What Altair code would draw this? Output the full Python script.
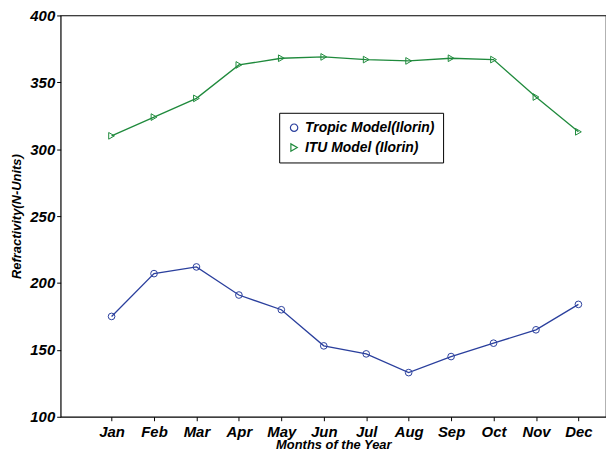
import pandas as pd
import altair as alt

months = ["Jan", "Feb", "Mar", "Apr", "May", "Jun", "Jul", "Aug", "Sep", "Oct", "Nov", "Dec"]
tropic = [175, 207, 212, 191, 180, 153, 147, 133, 145, 155, 165, 184]
itu = [310, 324, 338, 363, 368, 369, 367, 366, 368, 367, 339, 313]
series = ["Tropic Model(Ilorin)", "ITU Model (Ilorin)"]

rows = []
for i, m in enumerate(months):
    rows.append({"idx": i + 1, "month": m, "val": tropic[i], "model": series[0]})
    rows.append({"idx": i + 1, "month": m, "val": itu[i], "model": series[1]})
df = pd.DataFrame(rows)

font = "Liberation Sans"
label_expr = "[''," + ",".join("'%s'" % m for m in months) + "][datum.value]"

leg = alt.Legend(title=None, orient="none", legendX=220, legendY=98,
                 strokeColor="black", fillColor="white", padding=8, rowPadding=6,
                 labelFont=font, labelFontSize=14, labelFontWeight="bold",
                 labelFontStyle="italic", labelColor="black",
                 symbolSize=55, symbolStrokeWidth=1.2, symbolFillColor="transparent")

chart = alt.Chart(df).mark_line(
    point=alt.OverlayMarkDef(filled=False, size=45, strokeWidth=1), strokeWidth=1.3
).encode(
    x=alt.X("idx:Q", scale=alt.Scale(domain=[-0.2, 12.65], nice=False),
            axis=alt.Axis(values=list(range(1, 13)), labelExpr=label_expr, grid=False,
                          title="Months of the Year", titlePadding=-1, labelPadding=4)),
    y=alt.Y("val:Q", scale=alt.Scale(domain=[100, 400], nice=False),
            axis=alt.Axis(values=list(range(100, 401, 50)), grid=False,
                          title="Refractivity(N-Units)", titlePadding=6)),
    color=alt.Color("model:N", sort=series,
                    scale=alt.Scale(domain=series, range=["#2a3f9d", "#1f8a3c"]),
                    legend=leg),
    shape=alt.Shape("model:N", sort=series,
                    scale=alt.Scale(domain=series, range=["circle", "triangle-right"]),
                    legend=leg),
).properties(
    width=549, height=404,
    padding={"left": 53, "top": 6, "right": 0, "bottom": 36},
    autosize=alt.AutoSizeParams(type="none"),
).configure_view(stroke="black", strokeWidth=1.2).configure_axis(
    labelFont=font, titleFont=font, labelFontSize=15, titleFontSize=13,
    labelFontWeight="bold", labelFontStyle="italic", titleFontStyle="italic",
    titleFontWeight="bold", labelColor="black", titleColor="black",
    domainColor="black", tickColor="black", tickSize=4, domain=False,
)

chart.save("out.html", embed_options={"renderer": "svg", "actions": False})
